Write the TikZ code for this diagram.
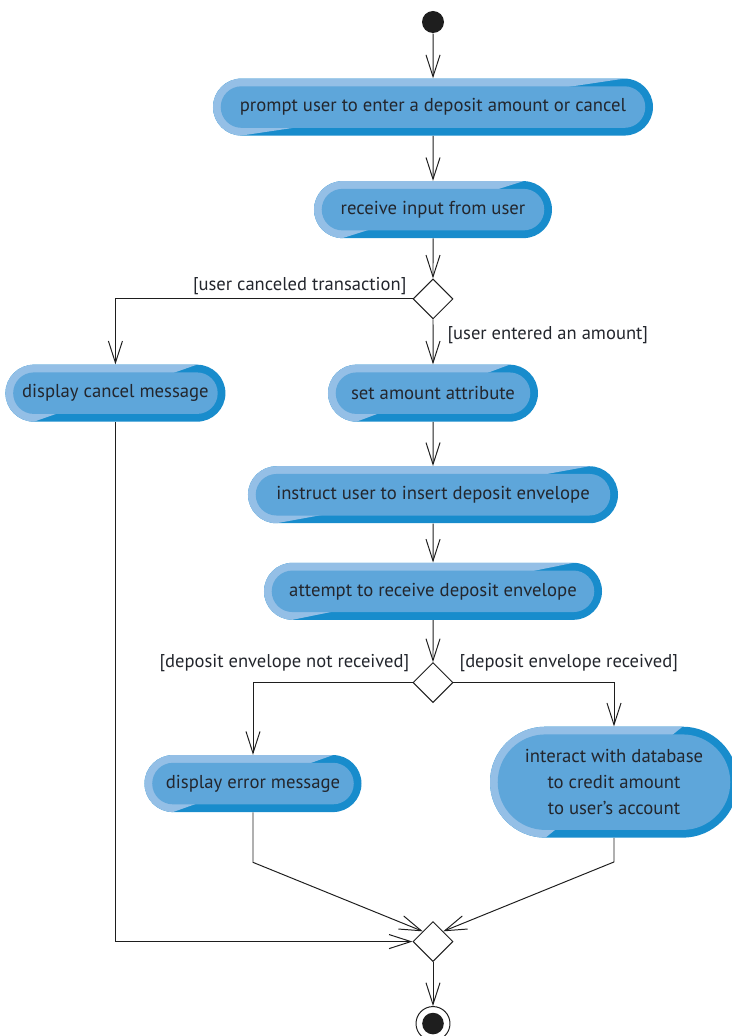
\documentclass[tikz,border=0pt]{standalone}
\usepackage{fontspec}
\setmainfont{PT Sans}
\usetikzlibrary{shapes.geometric, shapes.misc, arrows.meta, positioning, calc}
\definecolor{actlight}{RGB}{148, 191, 230}
\definecolor{actfill}{RGB}{94, 166, 218}
\definecolor{actdark}{RGB}{24, 140, 204}
\definecolor{inktext}{RGB}{35, 38, 45}
\definecolor{inkline}{RGB}{30, 30, 30}

\begin{document}
\begin{tikzpicture}[
  actbox/.style={rounded rectangle, fill=actdark, minimum height=1.425cm, inner sep=0pt,
    text=inktext, font=\fontsize{13.3}{18.4}\selectfont, align=center,
    path picture={
      \fill[actlight] let \p1=(path picture bounding box.south west),
        \p2=(path picture bounding box.north east), \n1={(\y2-\y1)/2} in
        (\x1,\y1) -- (\x1,\y2) -- (\x2-\n1,\y2) -- (\x1+\n1,\y1) -- cycle;
      \fill[actfill] let \p1=(path picture bounding box.south west),
        \p2=(path picture bounding box.north east), \n1={(\y2-\y1)/2-5.5pt-0.01pt} in
        [rounded corners=\n1] (\x1+5.5pt,\y1+5.5pt) rectangle (\x2-5.5pt,\y2-5.5pt);
    }},
  choice/.style={diamond, draw=inkline, fill=white, line width=0.7pt, minimum width=1cm, minimum height=1cm, inner sep=0pt},
  guard/.style={text=inktext, font=\fontsize{13.2}{15}\selectfont, inner sep=4pt},
  flow/.style={-{Straight Barb[length=15.5pt, width=10pt, line width=0.7pt]}, line width=0.7pt, draw=inkline}
]
  \useasboundingbox (-10.825, 0.55) rectangle (7.45, -25.35);

  \node[circle, fill=inkline, minimum size=0.55cm, inner sep=0pt] (start) at (0, 0) {};

  \node[actbox, minimum width=11cm, below=1.125cm of start] (prompt)
    {prompt user to enter a deposit amount or cancel};
  \node[actbox, minimum width=5.95cm, below=1.125cm of prompt] (receive)
    {receive input from user};
  \node[choice, below=1.0cm of receive] (dec1) {};

  \node[actbox, minimum width=5.25cm, below=1.125cm of dec1] (setamt)
    {set amount attribute};
  \node[actbox, minimum width=5.5cm, left=2.55cm of setamt] (cancel)
    {display cancel message};

  \node[actbox, minimum width=9.25cm, below=1.1cm of setamt] (instruct)
    {instruct user to insert deposit envelope};
  \node[actbox, minimum width=8.45cm, below=0.975cm of instruct] (attempt)
    {attempt to receive deposit envelope};
  \node[choice, below=1.05cm of attempt] (dec2) {};

  \node[actbox, minimum width=5.425cm] (dispErr) at ($(dec2)+(-4.5,-2.525)$)
    {display error message};
  \node[actbox, minimum width=6.2cm, minimum height=2.775cm] (interact) at ($(dec2)+(4.525,-2.49)$)
    {interact with database\\to credit amount\\to user’s account};

  \node[choice] (merge) at ($(dec2)+(0,-6.475)$) {};
  \node[circle, draw=inkline, line width=0.7pt, minimum size=0.85cm, inner sep=0pt, below=1.1cm of merge,
    path picture={\fill[inkline] (path picture bounding box.center) circle (0.27cm);}] (final) {};

  \draw[flow] (start) -- (prompt);
  \draw[flow] (prompt) -- (receive);
  \draw[flow] (receive) -- (dec1);
  \draw[flow] (dec1) -- node[guard, right=6pt, pos=0.35] {[user entered an amount]} (setamt);
  \draw[flow] (dec1.west) -| node[guard, pos=0, above left, yshift=-1.5pt] {[user canceled transaction]} (cancel.north);
  \draw[flow] (setamt) -- (instruct);
  \draw[flow] (instruct) -- (attempt);
  \draw[flow] (attempt) -- (dec2);
  \draw[flow] (dec2.west) -| node[guard, pos=0, above left, yshift=3.5pt, xshift=2pt] {[deposit envelope not received]} (dispErr.north);
  \draw[flow] (dec2.east) -| node[guard, pos=0, above right, yshift=3.5pt] {[deposit envelope received]} (interact.north);
  \draw[flow] (dispErr.south) -- ++(0,-1.25) -- (merge.north west);
  \draw[flow] (interact.south) -- ++(0,-0.6) -- (merge.north east);
  \draw[flow] (cancel.south) |- (merge.west);
  \draw[flow] (merge) -- (final);

\end{tikzpicture}
\end{document}
